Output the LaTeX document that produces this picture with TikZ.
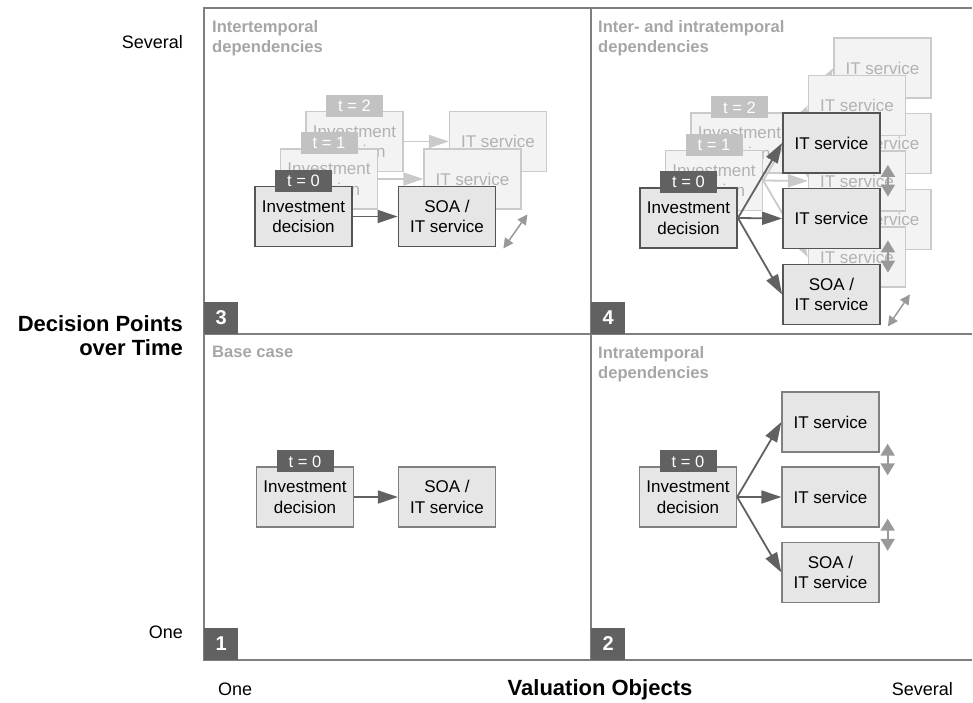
\documentclass[tikz,border=0pt]{standalone}
\usepackage{fontspec}
\setmainfont{Liberation Sans}
\usetikzlibrary{arrows.meta,positioning}
\definecolor{framegray}{HTML}{7F7F7F}
\definecolor{boxfill}{HTML}{E6E6E6}
\definecolor{boxline}{HTML}{808080}
\definecolor{darkline}{HTML}{555555}
\definecolor{taggray}{HTML}{616161}
\definecolor{ghostfill}{HTML}{F3F3F3}
\definecolor{ghostline}{HTML}{CACACA}
\definecolor{ghosttext}{HTML}{B2B2B2}
\definecolor{ghosttag}{HTML}{C2C2C2}
\definecolor{titlegray}{HTML}{A6A6A6}
\definecolor{dblgray}{HTML}{999999}
\tikzset{
  box/.style={draw=boxline,line width=1.3pt,fill=boxfill,minimum width=97pt,minimum height=60pt,
    inner sep=0pt,align=center,font=\fontsize{17}{20.5}\selectfont},
  boldbox/.style={box,draw=darkline,line width=1.8pt},
  gbox/.style={box,draw=ghostline,fill=ghostfill,text=ghosttext},
  tag/.style={fill=taggray,text=white,minimum width=57pt,minimum height=22pt,inner sep=0pt,
    font=\fontsize{16.5}{20}\selectfont},
  gtag/.style={tag,fill=ghosttag},
  numbox/.style={fill=taggray,text=white,minimum width=34pt,minimum height=32pt,inner sep=0pt,
    anchor=south west,font=\bfseries\fontsize{20}{24}\selectfont},
  qtitle/.style={anchor=north west,inner sep=0pt,align=left,text=titlegray,
    font=\bfseries\fontsize{16.6}{20}\selectfont},
  flow/.style={draw=taggray,line width=1.8pt,-{Triangle[length=20pt,width=13pt]}},
  gflow/.style={flow,draw=ghostline},
  dbl/.style={draw=dblgray,line width=2pt,{Triangle[length=12pt,width=14pt]}-{Triangle[length=12pt,width=14pt]}},
  dbldiag/.style={dbl,line width=1.5pt,{Triangle[length=10pt,width=10pt]}-{Triangle[length=10pt,width=10pt]}},
}
\begin{document}
\begin{tikzpicture}[x=1pt,y=-1pt]
    \useasboundingbox (0,0) rectangle (973,703);
    % 四个象限的框线
    \draw[framegray,line width=1.2pt] (972,8) -- (204,8) -- (204,660) -- (972,660);
    \draw[framegray,line width=1.2pt] (591,8) -- (591,660);
    \draw[framegray,line width=1.2pt] (204,334) -- (972,334);
    \node[numbox] (num3) at (204,334) {3};
    \node[numbox] (num4) at (591,334) {4};
    \node[numbox] (num1) at (204,660) {1};
    \node[numbox] (num2) at (591,660) {2};
    \node[qtitle] (title3) at (212,20) {Intertemporal\\dependencies};
    \node[qtitle] (title4) at (598,20) {Inter- and intratemporal\\dependencies};
    \node[qtitle] (title1) at (212,346) {Base case};
    \node[qtitle] (title2) at (598,346) {Intratemporal\\dependencies};
    % 坐标轴文字
    \node[anchor=base east,inner sep=0pt,font=\fontsize{18}{22}\selectfont] (sevy) at (183,49) {Several};
    \node[anchor=base east,inner sep=0pt,font=\fontsize{18}{22}\selectfont] (oney) at (183,638) {One};
    \node[anchor=north east,inner sep=0pt,align=right,font=\bfseries\fontsize{22}{24}\selectfont] (ylab) at (183,315) {Decision Points\\over Time};
    \node[anchor=base west,inner sep=0pt,font=\fontsize{18}{22}\selectfont] (onex) at (218,695) {One};
    \node[anchor=base,inner sep=0pt,font=\bfseries\fontsize{22}{24}\selectfont] (xlab) at (600,695) {Valuation Objects};
    \node[anchor=base east,inner sep=0pt,font=\fontsize{18}{22}\selectfont] (sevx) at (953,695) {Several};
    % 象限1
    \node[box] (inv1) at (305,497) {Investment\\decision};
    \node[tag] (tag1) at ([yshift=5pt]inv1.north) {t = 0};
    \node[box] (soa1) at (447,497) {SOA /\\IT service};
    \draw[flow] (inv1) -- (soa1);
    % 象限2
    \node[box] (inv2) at (688,497) {Investment\\decision};
    \node[tag] (tag2) at ([yshift=5pt]inv2.north) {t = 0};
    \node[box] (it21) at (830.5,422) {IT service};
    \node[box] (it22) at (830.5,497) {IT service};
    \node[box] (soa2) at (830.5,572.5) {SOA /\\IT service};
    \draw[flow] (inv2.east) -- (it21.west);
    \draw[flow] (inv2.east) -- (it22.west);
    \draw[flow] (inv2.east) -- (soa2.west);
    \draw[dbl] ([shift={(8pt,9pt)}]it21.south east) -- ([shift={(8pt,-9pt)}]it22.north east);
    \draw[dbl] ([shift={(8pt,9pt)}]it22.south east) -- ([shift={(8pt,-9pt)}]soa2.north east);
    % 象限3, 后面的t=2和t=1
    \foreach \k in {2,1}{
        \begin{scope}[shift={(25.5*\k,-37.5*\k)}]
            \node[gbox] (ginv3\k) at (303.5,216.5) {Investment\\decision};
            \node[gtag] (gtag3\k) at ([yshift=5pt]ginv3\k.north) {t = \k};
            \node[gbox] (git3\k) at (447,216.5) {IT service};
            \draw[gflow] (ginv3\k) -- (git3\k);
        \end{scope}
    }
    \node[boldbox] (inv3) at (303.5,216.5) {Investment\\decision};
    \node[tag] (tag3) at ([yshift=5pt]inv3.north) {t = 0};
    \node[boldbox] (soa3) at (447,216.5) {SOA /\\IT service};
    \draw[flow] (inv3) -- (soa3);
    \draw[dbldiag] ([shift={(7pt,-1pt)}]soa3.south east) -- ([shift={(31pt,33pt)}]soa3.south east);
    % 象限4
    \foreach \k in {2,1}{
        \begin{scope}[shift={(25.5*\k,-37.5*\k)}]
            \node[gbox] (ginv4\k) at (688.5,218) {Investment\\decision};
            \node[gtag] (gtag4\k) at ([yshift=5pt]ginv4\k.north) {t = \k};
            \foreach \r/\yy in {1/143,2/218.5,3/294.5}{
                \node[gbox] (git4\k\r) at (831.5,\yy) {IT service};
                \draw[gflow] (ginv4\k.east) -- (git4\k\r.west);
            }
        \end{scope}
    }
    \node[boldbox] (inv4) at (688.5,218) {Investment\\decision};
    \node[tag] (tag4) at ([yshift=5pt]inv4.north) {t = 0};
    \node[boldbox] (it41) at (831.5,143) {IT service};
    \node[boldbox] (it42) at (831.5,218.5) {IT service};
    \node[boldbox] (soa4) at (831.5,294.5) {SOA /\\IT service};
    \draw[flow] (inv4.east) -- (it41.west);
    \draw[flow] (inv4.east) -- (it42.west);
    \draw[flow] (inv4.east) -- (soa4.west);
    \draw[dbl] ([shift={(7pt,9pt)}]it41.south east) -- ([shift={(7pt,-9pt)}]it42.north east);
    \draw[dbl] ([shift={(7pt,9pt)}]it42.south east) -- ([shift={(7pt,-9pt)}]soa4.north east);
    \draw[dbldiag] ([shift={(7pt,-1pt)}]soa4.south east) -- ([shift={(29pt,31pt)}]soa4.south east);
\end{tikzpicture}
\end{document}
